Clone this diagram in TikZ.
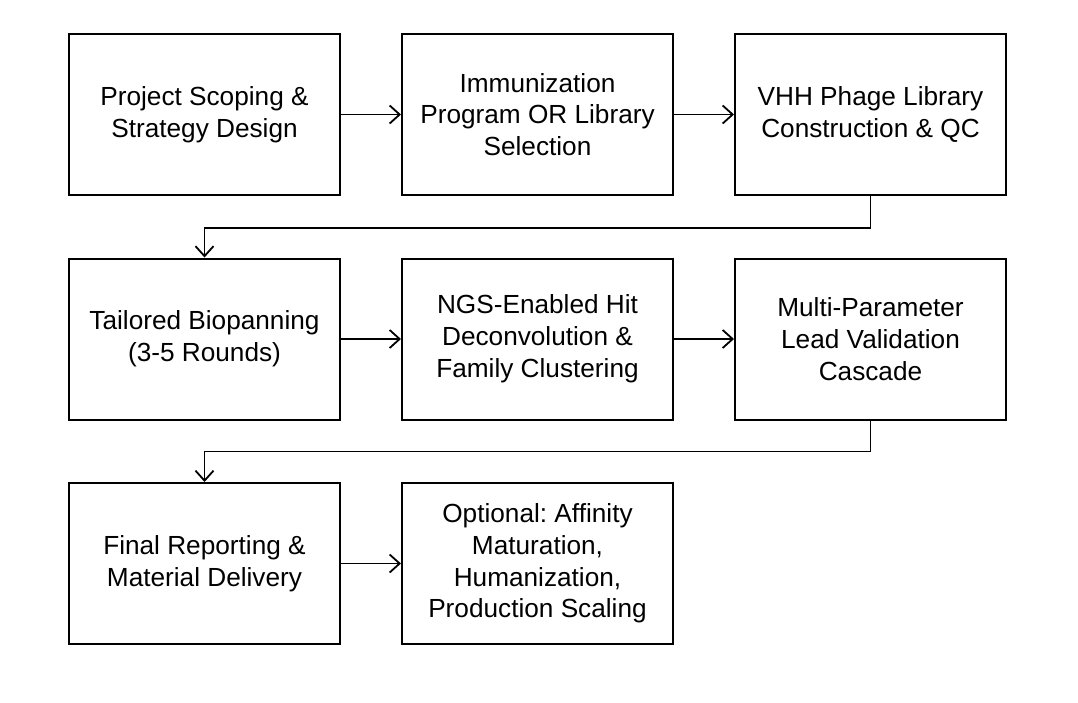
\documentclass[tikz,border=0pt]{standalone}
\usepackage{fontspec}
\setmainfont{Liberation Sans}
\usetikzlibrary{arrows.meta,positioning}
\frenchspacing

\begin{document}
\begin{tikzpicture}[
                x=1pt, y=-1pt,
                node distance=60pt,
                stepbox/.style={rectangle, draw, line width=2pt, minimum width=271pt, minimum height=161pt, align=center, inner sep=0pt, font=\fontsize{26.2}{31.8}\selectfont},
                flow/.style={-{Straight Barb[length=10pt,width=18pt,line width=1.8pt]}, line width=1.8pt}
            ]
                \useasboundingbox (0,0) rectangle (1078,702);
                \node[stepbox] (scope) at (204.5,114.5) {Project Scoping \&\\Strategy Design};
                \node[stepbox, right=of scope] (immun) {Immunization\\Program OR Library\\Selection};
                \node[stepbox, right=of immun] (lib) {VHH Phage Library\\Construction \& QC};
                \node[stepbox] (pan) at (204.5,339) {Tailored Biopanning\\(3-5 Rounds)};
                \node[stepbox, right=of pan] (ngs) {NGS-Enabled Hit\\Deconvolution \&\\Family Clustering};
                \node[stepbox, right=of ngs] (lead) {Multi-Parameter\\Lead Validation\\Cascade};
                \node[stepbox] (report) at (204.5,563.5) {Final Reporting \&\\Material Delivery};
                \node[stepbox, right=of report] (opt) {Optional: Affinity\\Maturation,\\Humanization,\\Production Scaling};

                \draw[flow] (scope) -- (immun);
                \draw[flow] (immun) -- (lib);
                \draw[flow] (lib.south) -- ++(0,32) -| (pan.north);
                \draw[flow] (pan) -- (ngs);
                \draw[flow] (ngs) -- (lead);
                \draw[flow] (lead.south) -- ++(0,31) -| (report.north);
                \draw[flow] (report) -- (opt);
            \end{tikzpicture}
\end{document}
